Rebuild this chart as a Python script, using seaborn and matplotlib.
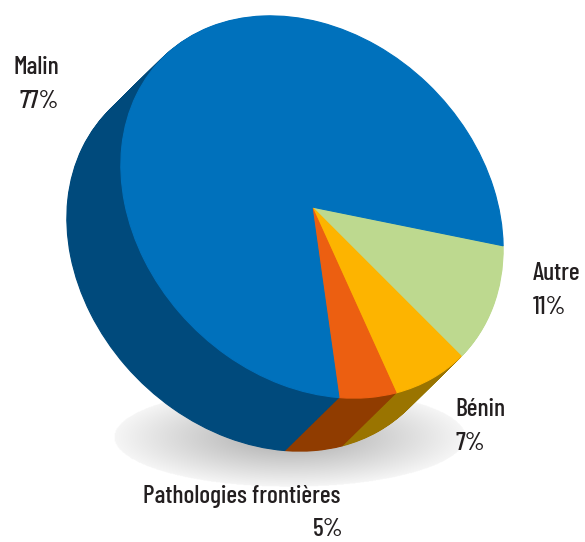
import numpy as np
import matplotlib
matplotlib.use('Agg')
import matplotlib.pyplot as plt
from matplotlib.transforms import Affine2D
import seaborn as sns

# Données du camembert
categories = ['Autre', 'Bénin', 'Pathologies frontières', 'Malin']
valeurs = [11, 7, 5, 77]
pourcentages = ['11%', '7%', '5%', '77%']

couleurs_dessus = ['#BDD98F', '#FDB400', '#EC5F11', '#0071BC']
couleurs_cote = ['#BDD98F', '#9A7400', '#903C00', '#004A7C']

sns.set_theme(style='white')
plt.rcParams['font.family'] = ['Barlow Condensed', 'Roboto Condensed', 'DejaVu Sans']

fig = plt.figure(figsize=(5.85, 5.42), dpi=100)
ax = fig.add_axes([0, 0, 1, 1])

# cercle -> ellipse inclinée (grand axe vers le sud-est de l'image)
centre = (312, 207)
a, b = 211, 169
ellipse = Affine2D().scale(a, b).rotate_deg(-45).scale(1, -1).translate(*centre)
epaisseur = (-54, 53)


def dessine_pie(couleurs, dx, dy, zorder):
    wedges, _ = ax.pie(valeurs, colors=couleurs, startangle=39.6, counterclock=False, radius=1,
                       wedgeprops={'linewidth': 0.8, 'zorder': zorder})
    for w, c in zip(wedges, couleurs):
        w.set_edgecolor(c)
        w.set_transform(ellipse + Affine2D().translate(dx, dy) + ax.transData)


# ombre au sol
X, Y = np.meshgrid(np.linspace(100, 490, 400), np.linspace(380, 495, 200))
r = np.sqrt(((X - 290) / 176) ** 2 + ((Y - 437) / 50) ** 2)
ombre = np.zeros(X.shape + (4,))
ombre[..., 3] = np.where(r <= 1, 0.04 + 0.30 * (1 - r), 0)
ax.imshow(ombre, extent=(100, 490, 495, 380), aspect='auto', zorder=1, interpolation='bilinear')

# côté du camembert : copies décalées, de la plus loin à la plus proche
n = 70
for i in range(n, 0, -1):
    t = i / n
    dessine_pie(couleurs_cote, epaisseur[0] * t, epaisseur[1] * t, 2 + (n - i) * 0.001)

# dessus
dessine_pie(couleurs_dessus, 0, 0, 3)

ax.set_xlim(0, 585)
ax.set_ylim(542, 0)
ax.set_aspect('auto')
ax.axis('off')

# étiquettes
style = {'fontsize': 18.4, 'fontweight': 500, 'color': '#231F20', 'va': 'center'}
ax.text(59, 67, categories[3], ha='right', **style)
ax.text(59, 102, pourcentages[3], ha='right', **style)
ax.text(533, 274, categories[0], ha='left', **style)
ax.text(533, 307, pourcentages[0], ha='left', **style)
ax.text(455, 410, categories[1], ha='left', **style)
ax.text(455, 444, pourcentages[1], ha='left', **style)
ax.text(340, 496, categories[2], ha='right', **style)
ax.text(344, 529, pourcentages[2], ha='right', **style)

fig.savefig('out.png', dpi=100)
